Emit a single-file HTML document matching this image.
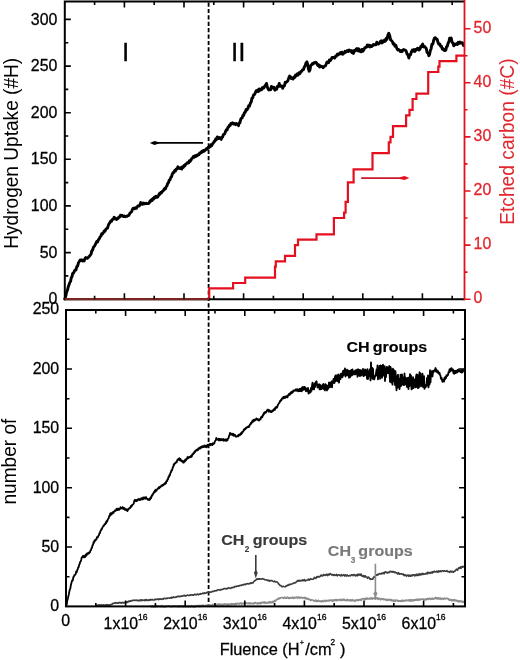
<!DOCTYPE html>
<html><head><meta charset="utf-8"><style>html,body{margin:0;padding:0;background:#fff;overflow:hidden}svg{display:block;will-change:transform}</style></head><body>
<svg width="520" height="660" viewBox="0 0 520 660">
<rect width="520" height="660" fill="#fff"/>
<line x1="208.6" y1="2.5" x2="208.6" y2="606" stroke="#000" stroke-width="1.8" stroke-dasharray="4.2 2.2"/>
<polyline points="64.8,299.0 65.7,296.4 66.5,292.5 67.4,290.3 68.2,287.1 69.0,284.8 69.8,282.6 70.6,281.3 71.3,277.7 72.0,276.8 72.7,273.4 73.5,273.1 74.3,271.3 75.1,269.9 75.9,270.1 76.8,266.6 77.6,266.2 78.5,262.7 79.3,261.5 80.2,260.1 81.0,260.5 81.8,259.9 82.6,261.0 83.4,260.2 84.2,260.9 85.0,258.4 85.7,257.6 86.5,258.0 87.3,258.3 88.1,257.7 88.9,256.6 89.7,256.0 90.4,255.0 91.1,254.0 91.8,250.6 92.6,250.0 93.4,247.4 94.2,246.4 95.0,245.2 95.9,243.3 96.7,241.6 97.6,242.1 98.4,239.7 99.3,238.8 100.1,236.8 100.9,236.2 101.7,233.8 102.5,234.1 103.3,232.8 104.2,231.0 105.0,231.3 105.9,229.2 106.7,228.5 107.5,228.1 108.3,225.4 109.1,223.7 109.9,222.7 110.7,221.0 111.6,221.2 112.4,219.5 113.3,219.2 114.1,217.3 114.9,218.7 115.7,218.2 116.5,219.5 117.3,218.5 118.1,218.5 118.9,216.9 119.7,217.0 120.5,215.2 121.3,215.9 122.1,215.3 122.9,216.4 123.7,216.6 124.5,216.0 125.3,216.8 126.1,216.4 126.9,216.4 127.7,215.7 128.5,215.6 129.3,214.5 130.1,212.9 130.9,212.3 131.6,211.7 132.4,209.5 133.2,208.2 134.0,208.2 134.8,208.7 135.6,207.7 136.4,208.3 137.3,206.5 138.1,205.8 139.0,206.1 139.8,205.2 140.7,202.6 141.5,203.2 142.4,204.3 143.2,203.0 144.1,203.9 144.9,203.3 145.8,203.7 146.6,203.3 147.5,203.6 148.3,203.5 149.2,203.1 150.0,201.0 150.7,201.4 151.5,199.7 152.3,200.4 153.0,198.4 153.8,198.8 154.6,196.9 155.4,197.6 156.1,196.2 156.9,197.3 157.7,197.0 158.5,195.6 159.2,193.8 160.0,194.2 160.7,192.5 161.5,192.8 162.3,191.4 163.1,191.0 163.8,189.8 164.6,188.5 165.4,189.0 166.2,186.6 166.9,186.0 167.7,183.5 168.4,182.7 169.2,180.2 170.0,179.7 170.8,177.4 171.5,176.8 172.3,174.2 173.1,172.5 173.9,172.6 174.7,170.5 175.5,170.9 176.3,168.9 177.1,168.9 177.9,166.8 178.7,168.3 179.4,168.1 180.2,168.6 180.9,167.6 181.7,169.1 182.5,166.7 183.3,167.4 184.0,165.4 184.8,165.8 185.6,164.2 186.4,164.0 187.1,163.0 187.9,162.4 188.6,162.9 189.4,160.7 190.2,161.3 191.0,160.2 191.7,158.5 192.5,158.2 193.3,156.5 194.1,157.2 194.9,155.7 195.7,156.5 196.5,155.2 197.3,155.7 198.1,154.4 198.9,154.6 199.6,153.0 200.4,153.3 201.1,152.6 201.9,151.2 202.7,151.9 203.5,150.4 204.2,151.2 205.0,150.5 205.8,149.3 206.5,148.7 207.2,149.2 208.0,147.5 208.7,147.7 209.5,146.2 210.2,146.8 211.0,144.7 211.7,145.6 212.5,143.9 213.3,143.2 214.1,141.5 214.9,141.3 215.7,139.0 216.5,139.5 217.3,136.9 218.1,138.5 218.9,138.5 219.6,137.4 220.4,137.9 221.2,139.4 221.9,137.2 222.6,137.2 223.3,134.7 224.0,134.3 224.8,133.6 225.6,131.2 226.3,129.8 227.1,130.0 227.9,127.4 228.7,127.1 229.4,125.2 230.2,125.4 230.9,123.4 231.7,123.5 232.5,122.8 233.3,124.0 234.0,124.1 234.8,123.6 235.6,124.6 236.3,123.4 237.1,124.3 237.8,124.3 238.5,125.7 239.2,122.9 239.9,122.9 240.6,119.6 241.3,118.3 242.1,118.0 242.9,115.5 243.6,115.5 244.4,112.6 245.2,112.4 246.1,109.4 246.9,109.9 247.8,108.5 248.7,105.7 249.5,106.1 250.4,103.1 251.2,101.9 251.9,98.2 252.7,97.7 253.6,94.9 254.4,94.7 255.3,92.9 256.2,90.7 257.0,91.5 257.7,90.0 258.5,91.4 259.3,88.9 260.0,90.3 260.8,89.2 261.6,89.7 262.5,87.6 263.4,88.3 264.2,87.5 265.0,85.4 265.7,85.4 266.5,83.4 267.3,87.0 268.0,88.6 268.8,90.0 269.7,89.4 270.6,89.7 271.4,86.4 272.3,87.0 273.2,88.1 274.1,87.3 274.9,90.2 275.8,89.3 276.6,89.3 277.5,86.3 278.4,86.4 279.2,83.5 280.1,86.3 280.9,86.3 281.8,85.9 282.7,88.3 283.6,86.0 284.4,86.0 285.3,82.2 286.2,82.2 287.1,81.6 287.9,80.6 288.8,77.9 289.6,76.1 290.5,76.9 291.4,78.6 292.2,78.0 293.1,78.9 294.0,76.9 294.8,77.5 295.6,75.0 296.5,75.7 297.4,73.8 298.2,75.0 299.1,72.7 300.0,73.5 300.9,71.4 301.8,71.4 302.6,69.7 303.5,69.6 304.4,66.8 305.2,65.6 306.0,62.9 306.9,61.9 307.7,64.4 308.4,68.7 309.2,71.2 310.0,69.8 310.7,65.6 311.5,64.9 312.4,63.6 313.2,64.0 314.1,62.6 315.0,62.8 315.8,62.2 316.5,62.9 317.3,64.5 318.1,65.5 318.8,64.9 319.6,67.1 320.5,65.9 321.4,66.6 322.2,66.4 323.1,67.8 323.9,66.6 324.6,66.1 325.4,65.8 326.2,64.1 326.9,62.2 327.7,62.0 328.6,62.6 329.4,59.9 330.3,60.6 331.2,59.2 332.1,57.5 332.9,57.4 333.8,57.4 334.6,58.1 335.5,56.1 336.4,56.3 337.2,54.2 338.1,54.8 338.9,53.7 339.6,54.1 340.4,52.6 341.2,53.8 341.9,52.2 342.7,54.3 343.5,53.4 344.2,53.3 345.0,51.3 345.8,52.2 346.5,51.5 347.3,50.5 348.2,51.4 349.1,50.0 350.0,50.9 350.9,50.4 351.8,52.4 352.6,50.9 353.5,53.4 354.4,50.4 355.2,51.0 356.0,49.4 356.9,48.5 357.8,50.7 358.6,48.8 359.5,51.3 360.4,50.1 361.2,51.8 362.1,49.4 362.9,51.2 363.8,49.7 364.7,48.0 365.6,47.3 366.4,47.3 367.3,45.1 368.2,46.4 369.1,45.1 369.9,46.9 370.8,45.6 371.6,46.5 372.5,45.9 373.4,44.5 374.2,44.6 375.1,44.9 375.9,44.9 376.8,42.2 377.7,43.8 378.6,44.0 379.4,43.2 380.3,41.6 381.2,40.7 382.1,42.9 382.9,41.0 383.8,41.6 384.6,39.9 385.4,41.1 386.1,38.6 386.9,39.5 387.9,35.1 388.8,33.2 389.7,35.5 390.6,39.9 391.5,40.6 392.4,41.6 393.2,44.0 394.1,43.8 395.0,46.2 395.9,45.4 396.8,48.4 397.6,49.9 398.5,49.5 399.4,50.1 400.2,51.4 401.0,50.5 401.9,51.6 402.8,50.2 403.6,49.5 404.5,50.1 405.4,50.2 406.2,51.2 407.1,54.2 407.9,54.6 408.8,58.0 409.7,55.0 410.6,54.7 411.4,51.7 412.3,50.1 413.2,51.2 414.1,49.5 414.9,51.4 415.8,49.5 416.6,49.9 417.5,48.2 418.4,48.4 419.2,50.0 420.1,48.8 420.9,46.3 421.8,46.6 422.7,44.1 423.6,46.9 424.4,46.4 425.3,47.3 426.2,48.4 427.1,52.3 428.0,53.1 428.9,55.7 429.6,54.3 430.4,50.3 431.1,48.8 431.9,44.2 432.8,44.3 433.6,40.6 434.5,38.1 435.4,37.7 436.2,39.1 437.1,39.1 437.9,42.1 438.8,44.3 439.7,43.9 440.6,46.3 441.4,46.1 442.3,49.2 443.2,48.8 444.1,50.4 444.9,50.6 445.8,50.2 446.6,46.6 447.3,46.3 448.1,43.2 448.9,41.8 449.6,38.2 450.4,38.5 451.2,38.0 452.1,42.3 452.9,43.1 453.8,45.8 454.7,44.0 455.6,44.6 456.4,43.7 457.3,44.5 458.2,42.3 459.1,43.4 459.9,42.1 460.8,43.1 461.7,42.7 462.6,42.9 463.5,45.4" fill="none" stroke="#000" stroke-width="2.9" stroke-linejoin="round" stroke-linecap="round"/>
<polyline points="209.2,299.2 209.2,288.4 233.1,288.4 233.1,283.0 245.2,283.0 245.2,277.6 275.0,277.6 275.0,266.7 275.8,266.7 275.8,261.3 285.0,261.3 285.0,255.9 295.0,255.9 295.0,245.1 298.0,245.1 298.0,239.7 316.5,239.7 316.5,234.3 333.9,234.3 333.9,218.0 344.1,218.0 344.1,212.6 345.6,212.6 345.6,201.8 347.9,201.8 347.9,182.3 353.6,182.3 353.6,169.4 372.5,169.4 372.5,153.1 388.8,153.1 388.8,142.3 390.5,142.3 390.5,136.9 393.0,136.9 393.0,126.1 406.1,126.1 406.1,115.3 409.5,115.3 409.5,109.8 412.6,109.8 412.6,99.0 416.4,99.0 416.4,93.6 428.2,93.6 428.2,72.0 438.3,72.0 438.3,66.6 439.5,66.6 439.5,61.2 456.4,61.2 456.4,55.7 464.5,55.7" fill="none" stroke="#e5101f" stroke-width="2.2" stroke-linejoin="miter"/>
<polyline points="150.0,606.4 150.8,606.0 151.6,606.9 152.4,606.0 153.2,607.0 154.0,606.1 154.8,607.0 155.6,606.3 156.4,605.7 157.2,606.9 158.0,606.3 158.8,606.5 159.6,606.2 160.4,606.8 161.2,605.8 162.1,606.9 162.9,605.9 163.7,606.7 164.5,607.1 165.3,606.9 166.1,606.2 166.9,606.5 167.7,606.1 168.5,606.1 169.3,605.8 170.1,606.6 170.9,606.8 171.7,606.7 172.5,605.9 173.3,606.7 174.1,606.1 174.9,605.8 175.7,606.7 176.5,606.3 177.3,606.6 178.1,606.0 178.9,606.9 179.7,605.9 180.5,606.8 181.3,606.1 182.1,605.8 182.9,607.0 183.8,606.1 184.6,605.9 185.4,607.1 186.2,606.1 187.0,606.7 187.8,606.3 188.6,606.9 189.4,605.9 190.2,606.8 191.0,606.8 191.8,605.8 192.6,606.6 193.4,607.0 194.2,606.2 195.0,607.1 195.8,605.7 196.6,605.8 197.4,606.4 198.2,605.5 199.1,606.6 199.9,605.5 200.7,606.3 201.5,605.4 202.3,606.1 203.1,605.2 203.9,606.1 204.7,606.0 205.5,605.4 206.4,605.8 207.2,605.2 208.0,605.7 208.8,604.8 209.6,604.9 210.4,605.8 211.2,605.1 212.0,605.8 212.8,604.5 213.6,605.6 214.4,604.5 215.2,605.6 216.0,604.4 216.8,605.4 217.6,604.2 218.4,605.3 219.2,604.1 220.0,604.0 220.8,605.2 221.6,605.0 222.4,604.3 223.2,605.1 224.0,604.1 224.8,604.0 225.6,604.9 226.4,604.1 227.2,605.2 228.0,604.0 228.8,605.1 229.6,604.3 230.4,604.9 231.2,603.8 232.0,604.5 232.9,603.8 233.7,604.4 234.5,604.7 235.3,603.5 236.1,604.5 236.9,603.6 237.7,603.3 238.5,603.5 239.3,604.1 240.1,603.3 241.0,603.0 241.8,604.3 242.6,603.3 243.4,603.7 244.2,603.0 245.0,603.8 245.8,602.8 246.6,603.0 247.4,603.5 248.2,603.5 249.0,602.9 249.8,603.9 250.6,603.2 251.3,603.5 252.1,603.6 252.9,603.2 253.7,603.7 254.5,602.8 255.3,602.6 256.1,603.5 256.9,603.1 257.7,603.7 258.5,603.0 259.3,603.5 260.1,602.7 260.9,603.6 261.8,602.4 262.6,602.7 263.4,602.2 264.2,603.1 265.0,602.0 265.8,603.0 266.6,603.1 267.4,602.8 268.2,602.1 269.0,602.9 269.9,601.7 270.7,602.8 271.5,602.7 272.3,601.4 273.1,602.5 273.9,601.7 274.7,600.6 275.5,601.0 276.4,599.8 277.2,599.3 278.0,599.2 278.8,597.9 279.6,598.6 280.5,597.8 281.3,597.7 282.1,597.7 282.9,597.8 283.8,598.3 284.6,597.3 285.4,598.2 286.2,598.2 287.0,597.5 287.8,597.2 288.7,598.4 289.5,598.2 290.3,597.6 291.1,598.2 291.9,597.7 292.7,597.4 293.5,598.4 294.3,597.4 295.1,597.9 295.9,597.4 296.8,597.1 297.6,598.2 298.4,597.4 299.2,597.2 300.0,598.1 300.8,597.4 301.7,597.7 302.5,598.0 303.3,597.7 304.2,598.3 305.0,597.5 305.8,598.8 306.7,598.1 307.5,599.1 308.3,598.7 309.2,599.7 310.0,599.5 310.8,600.4 311.7,599.8 312.5,600.0 313.3,600.3 314.2,601.2 315.0,601.0 315.8,600.1 316.7,601.5 317.5,601.1 318.3,600.4 319.2,601.2 320.0,601.5 320.8,600.9 321.6,601.5 322.5,600.8 323.3,601.6 324.1,601.1 324.9,600.3 325.8,601.4 326.6,600.7 327.4,600.9 328.2,600.3 329.0,600.9 329.9,600.4 330.7,599.9 331.5,600.4 332.3,601.2 333.0,599.9 333.8,600.8 334.6,600.0 335.4,600.4 336.1,599.6 336.9,600.6 337.7,599.8 338.5,600.3 339.2,599.9 340.0,599.4 340.8,600.5 341.6,599.5 342.3,600.2 343.1,600.3 343.9,599.1 344.7,600.4 345.6,600.2 346.4,600.6 347.2,599.5 348.0,600.4 348.9,600.0 349.7,600.6 350.5,600.0 351.3,600.8 352.1,599.7 353.0,600.8 353.8,600.1 354.6,600.9 355.4,601.0 356.2,599.8 357.1,600.1 357.9,600.6 358.7,599.6 359.5,600.0 360.4,599.5 361.2,600.2 362.0,599.0 362.8,598.9 363.6,598.7 364.5,598.9 365.3,599.5 366.1,598.1 366.9,599.1 367.7,598.3 368.5,598.8 369.3,599.0 370.1,598.1 370.8,598.8 371.6,598.0 372.4,599.0 373.2,598.3 374.0,598.5 374.8,597.7 375.6,599.0 376.4,598.4 377.3,597.9 378.1,599.3 378.9,598.4 379.7,598.6 380.6,599.7 381.4,598.7 382.2,598.6 383.0,599.5 383.8,599.0 384.7,599.6 385.5,599.4 386.3,600.2 387.1,599.5 388.0,600.3 388.8,599.6 389.6,599.4 390.4,600.4 391.3,599.7 392.1,600.9 392.9,600.2 393.8,601.0 394.6,600.2 395.4,601.0 396.2,600.2 397.1,600.4 397.9,601.2 398.7,600.7 399.5,601.2 400.4,600.8 401.2,601.4 402.0,600.3 402.8,601.1 403.6,600.4 404.5,601.2 405.3,600.4 406.1,600.1 406.9,600.7 407.8,600.2 408.6,600.0 409.4,601.0 410.2,599.8 410.9,600.9 411.7,599.9 412.5,600.8 413.3,599.9 414.0,600.5 414.8,599.7 415.6,600.1 416.4,599.4 417.1,600.2 417.9,599.3 418.7,600.0 419.5,599.2 420.2,599.9 421.0,599.3 421.8,599.0 422.6,599.2 423.4,599.2 424.2,599.7 425.0,599.9 425.8,598.9 426.6,599.5 427.4,598.7 428.2,599.4 429.0,598.5 429.8,598.4 430.6,599.3 431.4,599.0 432.2,598.2 433.0,599.0 433.8,598.9 434.6,598.5 435.4,597.7 436.2,598.5 437.0,597.8 437.9,599.0 438.7,598.0 439.5,598.8 440.3,598.1 441.1,599.3 442.0,598.5 442.8,598.3 443.6,599.3 444.4,598.4 445.3,598.6 446.1,598.5 446.9,598.5 447.7,598.6 448.5,598.9 449.4,600.1 450.2,600.0 451.0,599.6 451.8,600.7 452.6,599.9 453.5,600.6 454.3,599.7 455.1,600.8 455.9,600.2 456.8,601.0 457.6,600.6 458.4,601.7 459.2,601.0 459.9,601.6 460.7,600.9 461.4,601.8 462.2,601.4 463.0,602.3 463.7,601.5 464.5,602.0" fill="none" stroke="#8c8c8c" stroke-width="1.8" stroke-linejoin="round"/>
<polyline points="95.4,605.3 96.2,605.4 97.0,605.0 97.8,605.7 98.6,604.9 99.3,605.6 100.1,604.9 100.9,605.6 101.7,604.8 102.5,605.5 103.3,604.9 104.1,605.0 104.9,605.6 105.7,605.0 106.5,604.6 107.2,605.3 108.0,604.8 108.8,605.2 109.6,604.9 110.4,605.4 111.2,604.2 112.1,604.2 113.0,603.3 113.8,603.4 114.6,603.2 115.3,602.6 116.1,603.2 116.9,602.6 117.7,603.1 118.4,603.1 119.2,602.3 120.0,603.0 120.8,602.5 121.5,603.1 122.3,602.4 123.1,603.0 123.9,602.4 124.6,603.0 125.4,602.3 126.2,602.6 126.9,601.7 127.7,602.4 128.5,601.2 129.2,601.6 130.0,600.8 130.8,601.2 131.5,600.6 132.3,600.7 133.1,600.2 133.9,600.1 134.7,600.6 135.5,600.1 136.3,600.1 137.1,600.7 137.9,600.1 138.7,600.9 139.4,600.5 140.2,599.9 141.0,600.8 141.8,599.9 142.6,600.4 143.4,600.1 144.2,600.6 145.0,599.7 145.8,600.3 146.6,599.6 147.4,600.4 148.1,600.5 148.9,599.7 149.7,600.3 150.5,599.5 151.3,600.0 152.1,599.4 152.9,600.0 153.7,600.0 154.4,600.0 155.2,599.1 156.0,599.6 156.8,599.2 157.6,599.0 158.4,599.6 159.2,598.9 159.9,599.4 160.7,598.9 161.5,599.4 162.3,598.9 163.1,599.3 163.9,598.4 164.7,598.4 165.5,598.8 166.3,598.3 167.1,598.5 167.9,598.0 168.7,598.0 169.5,598.1 170.3,597.6 171.1,598.2 171.9,597.2 172.7,597.7 173.5,596.9 174.3,597.5 175.1,597.5 175.9,596.7 176.7,597.1 177.5,596.4 178.3,596.3 179.1,596.7 179.9,596.2 180.7,596.5 181.5,596.0 182.3,596.3 183.1,595.8 183.9,595.6 184.7,595.4 185.5,596.1 186.3,595.8 187.1,595.1 187.9,595.1 188.7,595.6 189.5,595.1 190.3,595.4 191.1,594.8 191.9,594.9 192.8,595.1 193.6,595.1 194.4,594.3 195.2,594.3 196.0,595.0 196.8,594.4 197.6,594.0 198.4,594.8 199.2,594.1 200.0,594.3 200.8,593.6 201.5,594.0 202.3,593.4 203.1,593.1 203.8,593.6 204.6,592.8 205.4,593.2 206.2,593.0 206.9,592.2 207.7,592.5 208.5,591.9 209.2,592.2 210.0,592.1 210.8,592.1 211.6,591.9 212.3,591.2 213.1,591.6 213.9,591.2 214.6,590.8 215.4,590.9 216.2,590.5 216.9,590.8 217.7,589.8 218.5,589.8 219.2,589.9 220.0,590.3 220.8,589.5 221.6,589.8 222.3,589.2 223.1,589.3 223.9,588.6 224.6,588.5 225.4,588.6 226.2,589.1 226.9,588.2 227.7,588.6 228.5,587.9 229.3,587.8 230.0,588.3 230.8,588.4 231.6,587.6 232.3,587.8 233.1,587.2 233.9,587.5 234.7,586.6 235.4,586.4 236.2,586.8 237.0,586.0 237.7,586.3 238.5,585.7 239.3,586.0 240.0,585.4 240.8,585.2 241.6,585.5 242.3,584.8 243.1,585.0 243.9,584.4 244.7,584.2 245.4,584.6 246.2,583.7 247.0,583.9 247.9,583.6 248.7,583.9 249.6,583.7 250.4,582.9 251.2,583.5 252.1,582.7 252.9,583.0 253.7,581.7 254.4,581.0 255.2,580.4 255.9,580.1 256.7,578.8 257.5,579.4 258.3,578.8 259.1,579.3 259.9,578.7 260.7,579.0 261.5,579.2 262.3,578.5 263.2,579.1 264.0,579.1 264.8,579.8 265.6,579.7 266.5,580.1 267.3,580.1 268.1,580.8 269.0,580.2 269.8,581.1 270.6,580.6 271.4,580.5 272.3,580.8 273.1,581.4 273.9,581.8 274.6,581.1 275.4,582.0 276.1,582.0 276.9,581.9 277.7,582.4 278.5,583.9 279.2,584.2 280.0,585.5 280.8,585.5 281.6,586.5 282.3,586.8 283.1,586.2 283.8,586.5 284.6,586.8 285.4,586.8 286.2,585.6 286.9,586.0 287.7,585.0 288.5,585.4 289.3,584.3 290.1,584.7 290.9,584.1 291.8,584.0 292.6,583.8 293.4,583.2 294.2,582.8 295.0,583.0 295.8,582.6 296.5,581.4 297.3,581.4 298.1,580.3 298.9,581.1 299.7,580.4 300.5,581.0 301.3,580.3 302.1,580.8 302.9,579.8 303.7,580.6 304.5,579.6 305.3,581.0 306.1,580.4 306.9,580.3 307.7,580.0 308.5,579.0 309.3,580.2 310.2,579.1 311.0,578.9 311.9,579.3 312.7,579.3 313.5,579.1 314.4,577.3 315.2,578.1 316.0,578.4 316.9,576.7 317.7,577.2 318.5,576.3 319.4,577.0 320.2,576.4 321.1,575.0 321.9,575.9 322.7,575.9 323.5,574.5 324.3,575.5 325.1,574.7 325.9,575.3 326.8,574.2 327.6,575.6 328.4,574.1 329.2,575.0 330.0,573.6 330.8,573.9 331.6,574.9 332.4,574.5 333.2,575.4 334.1,574.6 334.9,575.5 335.7,575.3 336.5,574.3 337.3,575.9 338.1,575.0 338.9,574.8 339.8,575.1 340.6,575.9 341.4,574.6 342.2,575.7 343.1,575.2 343.9,574.7 344.7,576.0 345.5,574.9 346.3,576.0 347.2,574.9 348.0,575.9 348.8,575.9 349.6,575.5 350.5,575.9 351.3,574.7 352.1,574.9 352.9,575.6 353.8,574.5 354.6,575.0 355.4,576.0 356.3,574.8 357.1,575.8 357.9,574.2 358.7,575.4 359.6,574.1 360.4,575.4 361.2,574.0 362.0,576.1 362.8,576.5 363.6,575.5 364.4,577.0 365.2,575.8 366.0,577.0 366.8,577.0 367.6,578.3 368.5,577.1 369.3,577.9 370.2,579.3 371.0,578.9 371.9,579.2 372.8,579.3 373.6,577.0 374.5,577.3 375.3,575.9 376.2,574.8 377.0,575.3 377.8,574.4 378.6,574.6 379.4,573.6 380.3,573.8 381.1,574.1 381.9,573.0 382.7,573.6 383.5,572.7 384.3,573.6 385.1,571.8 385.8,571.9 386.6,572.7 387.4,573.0 388.2,572.0 389.0,572.7 389.8,571.7 390.5,571.3 391.3,572.0 392.1,571.3 392.9,572.2 393.7,571.6 394.5,572.6 395.3,572.1 396.1,573.0 396.9,572.9 397.7,574.0 398.5,572.6 399.3,574.2 400.1,573.7 400.9,574.0 401.7,573.7 402.5,574.5 403.3,574.0 404.1,575.7 404.9,574.8 405.7,575.0 406.5,576.2 407.3,575.2 408.1,575.0 408.9,576.3 409.7,575.1 410.5,576.2 411.2,575.2 412.0,576.0 412.8,574.8 413.6,574.8 414.4,575.8 415.2,574.7 416.0,575.7 416.8,574.0 417.5,575.4 418.3,575.5 419.1,573.7 419.9,575.2 420.7,573.9 421.5,574.7 422.2,573.4 423.0,574.5 423.8,573.6 424.6,574.2 425.5,574.0 426.3,573.0 427.1,573.9 427.9,572.2 428.8,573.3 429.6,572.5 430.4,573.3 431.3,572.1 432.1,573.1 432.9,571.5 433.7,572.3 434.6,571.2 435.4,572.0 436.2,571.9 437.0,571.1 437.9,572.3 438.7,570.9 439.5,571.6 440.3,570.9 441.1,571.7 442.0,570.8 442.8,570.7 443.6,571.3 444.4,570.7 445.3,571.2 446.1,571.3 446.9,570.6 447.7,571.7 448.6,571.5 449.4,572.3 450.2,571.1 451.0,572.1 451.9,571.2 452.7,571.8 453.5,572.3 454.3,571.1 455.1,571.1 456.0,569.7 456.8,569.2 457.6,570.1 458.4,568.2 459.1,567.5 459.9,568.5 460.6,566.9 461.3,568.1 462.1,566.4 462.8,567.2 463.8,566.4 464.8,567.0" fill="none" stroke="#3c3c3c" stroke-width="1.6" stroke-linejoin="round"/>
<polyline points="66.2,606.0 66.8,604.2 67.3,600.4 67.9,598.4 68.4,595.9 68.8,594.5 69.3,591.7 69.8,589.5 70.3,588.6 70.8,585.4 71.3,583.5 71.8,581.6 72.3,580.1 72.8,580.3 73.3,577.2 73.8,577.0 74.3,575.2 74.8,575.1 75.2,574.8 75.7,573.9 76.2,571.5 76.7,572.2 77.2,570.0 77.7,569.6 78.2,567.3 78.7,567.1 79.2,564.6 79.7,564.0 80.2,561.7 80.7,561.4 81.2,560.0 81.7,557.3 82.1,557.3 82.6,556.7 83.1,555.8 83.6,557.2 84.1,557.4 84.6,555.9 85.1,557.0 85.6,554.6 86.1,555.8 86.6,553.7 87.1,554.8 87.6,553.1 88.0,554.0 88.5,552.6 89.0,553.4 89.5,552.1 90.0,552.4 90.5,550.3 91.0,550.1 91.5,547.9 92.0,547.8 92.5,545.3 93.0,545.0 93.5,542.1 94.0,542.7 94.5,540.5 94.9,541.3 95.4,539.6 95.9,539.9 96.4,539.5 96.9,537.3 97.4,537.0 97.9,537.2 98.4,535.7 98.9,535.3 99.4,533.2 99.9,533.2 100.4,531.0 100.9,530.7 101.4,528.9 101.8,529.1 102.3,527.7 102.8,526.9 103.3,526.0 103.8,526.0 104.3,524.5 104.8,524.6 105.3,524.3 105.8,522.2 106.2,523.1 106.7,520.9 107.2,521.6 107.7,519.8 108.2,518.7 108.7,518.3 109.2,515.9 109.7,516.3 110.2,513.5 110.7,515.0 111.2,513.1 111.7,514.3 112.1,513.4 112.6,512.2 113.1,511.9 113.6,513.0 114.1,511.3 114.6,511.2 115.1,510.3 115.6,510.9 116.1,510.3 116.6,508.8 117.1,508.6 117.6,510.1 118.1,508.8 118.6,508.6 119.1,509.9 119.6,508.6 120.1,508.8 120.5,507.2 121.0,508.7 121.5,508.0 122.0,508.0 122.5,507.1 123.0,508.8 123.5,507.8 124.0,509.0 124.5,508.1 125.0,509.9 125.5,509.1 126.0,510.0 126.5,510.4 126.9,509.2 127.4,511.1 127.9,510.0 128.4,509.6 128.9,508.8 129.4,508.0 129.9,508.2 130.4,507.5 130.9,505.9 131.4,506.7 131.8,505.1 132.3,505.5 132.8,504.4 133.3,504.1 133.8,503.4 134.3,500.7 134.8,499.9 135.3,499.8 135.8,501.2 136.3,500.0 136.8,501.0 137.2,499.9 137.7,500.6 138.2,499.0 138.7,499.2 139.2,499.0 139.7,500.0 140.2,499.9 140.7,499.6 141.2,498.1 141.7,499.4 142.2,498.3 142.7,499.5 143.2,497.5 143.7,498.9 144.1,497.4 144.6,498.4 145.1,497.4 145.6,498.7 146.1,497.1 146.6,498.7 147.1,498.9 147.6,498.8 148.1,499.8 148.6,499.4 149.1,500.1 149.6,498.7 150.0,499.6 150.5,497.5 151.0,498.3 151.4,496.9 151.9,495.1 152.4,495.6 152.9,493.9 153.3,493.8 153.8,492.1 154.3,492.6 154.9,490.5 155.4,491.7 155.9,489.7 156.4,490.7 157.0,489.7 157.5,489.1 158.0,488.2 158.4,488.4 158.9,487.2 159.4,488.3 159.9,486.8 160.4,487.1 160.8,486.8 161.3,485.5 161.8,485.4 162.4,485.9 162.9,484.6 163.4,485.1 163.9,484.7 164.5,483.4 165.0,484.0 165.5,482.4 166.0,483.2 166.5,480.9 167.0,481.3 167.5,479.2 168.0,479.4 168.4,477.0 168.9,477.3 169.4,475.0 169.9,475.4 170.4,472.9 170.8,472.9 171.3,470.5 171.8,470.8 172.3,469.4 172.8,467.2 173.3,466.8 173.8,464.1 174.3,464.8 174.8,463.2 175.3,462.9 175.8,463.0 176.3,461.7 176.8,462.1 177.3,460.0 177.8,460.2 178.3,458.9 178.8,459.5 179.3,458.2 179.8,460.4 180.3,458.8 180.8,460.6 181.3,461.0 181.8,460.5 182.3,461.7 182.8,461.1 183.3,462.6 183.8,462.5 184.3,460.6 184.9,461.6 185.4,459.3 185.9,460.5 186.4,459.0 187.0,459.0 187.5,457.0 188.0,458.4 188.4,457.2 188.9,457.6 189.4,456.9 189.9,457.2 190.4,456.5 190.8,457.2 191.3,455.4 191.8,456.6 192.4,454.2 192.9,454.5 193.4,453.1 193.9,453.5 194.5,451.4 195.0,452.1 195.5,450.7 195.9,451.0 196.4,449.8 196.9,450.3 197.4,449.4 197.9,450.3 198.3,448.4 198.8,449.1 199.3,447.8 199.9,447.4 200.4,448.5 200.9,446.9 201.4,447.5 202.0,446.3 202.5,447.2 203.0,446.1 203.4,446.1 203.9,447.0 204.4,445.4 204.9,446.9 205.4,446.8 205.8,445.8 206.3,447.3 206.8,445.3 207.4,446.7 207.9,444.6 208.4,444.6 208.9,444.7 209.5,445.0 210.0,443.8 210.5,445.3 210.9,444.0 211.4,444.9 211.9,444.0 212.4,445.0 212.9,443.2 213.3,444.1 213.8,443.5 214.3,443.5 214.8,441.6 215.3,440.6 215.8,440.2 216.3,438.0 216.8,439.5 217.4,439.4 217.9,439.5 218.4,438.7 218.9,440.4 219.5,438.9 220.0,440.3 220.5,439.0 220.9,440.3 221.4,439.1 221.9,439.1 222.4,440.2 222.9,439.7 223.3,439.0 223.8,440.8 224.3,439.8 224.9,439.5 225.4,440.6 225.9,439.5 226.4,440.9 227.0,439.1 227.5,440.3 228.0,438.5 228.5,438.2 229.0,436.0 229.5,435.3 230.0,432.8 230.5,434.5 230.9,433.6 231.4,434.6 231.9,433.7 232.4,434.8 232.9,433.8 233.3,435.7 233.8,434.3 234.3,435.8 234.9,434.8 235.4,435.3 235.9,436.7 236.4,436.8 237.0,436.4 237.5,436.0 238.0,435.5 238.4,436.3 238.9,434.7 239.4,434.5 239.9,435.2 240.4,434.0 240.8,433.1 241.3,434.2 241.8,432.2 242.4,432.7 242.9,431.4 243.4,431.3 243.9,429.3 244.5,429.9 245.0,428.6 245.5,429.1 245.9,427.7 246.4,428.0 246.9,427.2 247.4,427.4 247.9,427.1 248.3,426.3 248.8,427.1 249.3,426.6 249.9,424.3 250.4,424.4 250.9,422.8 251.4,423.5 252.0,421.6 252.5,420.7 253.0,421.9 253.4,420.0 253.9,421.2 254.4,419.5 254.9,420.5 255.4,420.1 255.8,419.7 256.3,418.4 256.8,419.3 257.4,419.8 257.9,419.0 258.4,420.3 258.9,420.5 259.5,419.3 260.0,419.5 260.5,419.4 260.9,417.9 261.4,416.7 261.9,417.3 262.4,417.1 262.9,414.8 263.3,415.0 263.8,413.0 264.3,413.9 264.9,412.2 265.4,412.0 265.9,412.5 266.4,411.7 267.0,410.1 267.5,410.6 268.0,409.5 268.4,411.0 268.9,411.7 269.4,410.2 269.9,410.7 270.4,411.7 270.8,411.3 271.3,412.2 271.8,412.0 272.3,410.5 272.8,411.1 273.3,410.0 273.8,410.3 274.3,408.6 274.9,409.9 275.4,407.5 275.9,408.3 276.4,406.7 277.0,407.6 277.5,406.5 278.0,404.6 278.5,403.9 279.0,403.1 279.5,402.7 280.0,401.0 280.5,401.3 280.9,399.9 281.4,400.2 281.9,398.4 282.4,398.6 282.9,398.7 283.3,397.0 283.8,397.7 284.3,396.7 284.9,398.1 285.4,396.5 285.9,397.5 286.4,396.1 287.0,396.8 287.5,397.3 288.0,395.1 288.4,395.6 288.9,394.2 289.4,393.7 289.9,394.8 290.4,392.9 290.8,393.8 291.3,391.9 291.8,393.1 292.4,391.4 292.9,392.2 293.4,390.5 293.9,391.1 294.5,390.2 295.0,390.6 295.5,390.6 296.0,389.3 296.5,390.7 297.0,389.8 297.5,389.2 298.0,391.3 298.5,389.8 299.0,391.1 299.5,388.9 300.0,391.2 300.5,388.6 301.0,391.1 301.5,391.4 302.0,387.5 302.5,390.5 303.0,386.9 303.5,389.1 304.0,389.7 304.5,387.0 305.0,388.4 305.5,387.6 306.0,391.4 306.5,390.4 307.0,389.0 307.5,391.0 308.0,387.9 308.5,393.7 309.0,390.5 309.5,392.8 310.0,390.5 310.5,392.3 311.0,387.9 311.5,390.8 312.0,385.7 312.5,382.7 313.0,389.2 313.5,388.1 314.0,389.3 314.5,383.4 315.0,387.2 315.5,383.1 316.0,381.9 316.5,381.2 317.0,384.3 317.5,387.5 318.0,386.9 318.5,384.9 319.0,384.3 319.5,389.3 320.0,384.6 320.5,389.3 321.0,386.1 321.5,389.2 322.0,385.3 322.5,388.3 323.0,384.5 323.5,383.9 324.0,389.4 324.5,386.2 325.0,390.5 325.5,384.2 326.0,388.9 326.5,385.1 327.0,390.5 327.5,386.0 328.0,389.0 328.5,387.7 329.0,382.5 329.5,386.5 330.0,387.3 330.5,382.6 331.0,385.7 331.5,381.5 332.0,387.4 332.5,381.1 333.0,383.2 333.5,378.8 334.0,379.6 334.5,383.0 335.0,376.2 335.5,381.3 336.0,375.2 336.5,380.5 337.0,376.6 337.5,381.3 338.0,374.8 338.5,374.4 339.0,382.6 339.5,377.5 340.0,375.3 340.5,379.1 341.0,373.6 341.5,377.1 342.0,373.5 342.5,377.3 343.0,371.0 343.5,375.4 344.0,370.5 344.5,374.4 345.0,368.4 345.5,376.5 346.0,371.1 346.5,375.4 347.0,369.7 347.5,375.4 348.0,370.6 348.5,370.6 349.0,377.8 349.5,371.3 350.0,377.4 350.5,370.6 351.0,375.8 351.5,370.0 352.0,375.4 352.5,369.5 353.0,374.7 353.5,371.5 354.0,372.1 354.5,374.3 355.0,370.6 355.5,374.4 356.0,370.2 356.5,370.1 357.0,369.9 357.5,376.8 358.0,369.2 358.5,374.9 359.0,369.8 359.5,376.0 360.0,370.0 360.5,375.9 361.0,370.3 361.5,375.4 362.0,370.7 362.5,374.2 363.0,368.8 363.5,376.2 364.0,371.0 364.5,375.6 365.0,369.5 365.5,370.0 366.0,375.0 366.5,370.6 367.0,378.6 367.5,369.2 368.0,379.1 368.5,371.7 369.0,376.3 369.5,371.0 370.0,369.1 370.5,380.4 371.0,362.4 371.5,375.7 372.0,367.6 372.5,378.8 373.0,368.6 373.5,378.5 374.0,379.4 374.5,378.7 375.0,375.9 375.5,376.2 376.0,373.3 376.5,369.5 377.0,375.4 377.5,365.3 378.0,379.4 378.5,370.4 379.0,376.5 379.5,366.0 380.0,378.8 380.5,365.4 381.0,376.5 381.5,365.9 382.0,377.8 382.5,366.7 383.0,364.7 383.5,375.5 384.0,369.4 384.5,366.1 385.0,381.0 385.5,370.4 386.0,377.2 386.5,367.1 387.0,366.9 387.5,369.3 388.0,373.4 388.6,368.3 389.3,366.0 390.0,381.8 390.5,366.9 391.0,368.7 391.5,382.6 392.0,370.0 392.5,384.7 393.0,368.6 393.5,381.4 394.0,370.1 394.5,374.2 395.0,385.0 395.5,371.2 396.0,382.9 396.5,390.3 397.0,376.1 397.5,387.6 398.0,374.6 398.5,387.0 399.0,378.8 399.5,389.2 400.0,385.3 400.5,374.6 401.0,386.2 401.5,382.9 402.0,374.3 402.5,384.6 403.0,378.8 403.5,377.5 404.0,385.2 404.5,373.5 405.0,384.7 405.5,377.3 406.0,384.4 406.5,379.2 407.0,386.9 407.5,377.9 408.0,385.8 408.5,389.0 409.0,377.5 409.5,386.2 410.0,374.2 410.5,375.3 411.0,375.5 411.5,389.4 412.0,388.8 412.5,384.1 413.0,377.1 413.5,388.1 414.0,379.1 414.5,385.6 415.0,383.2 415.5,387.4 416.0,376.7 416.5,374.5 417.0,386.9 417.5,375.0 418.0,388.2 418.5,375.4 419.0,387.3 419.5,372.2 420.0,374.2 420.5,373.3 421.0,386.4 421.5,378.8 422.0,385.4 422.5,373.7 423.0,387.0 423.5,386.2 424.0,376.1 424.5,388.9 425.0,384.8 425.5,387.4 426.0,385.9 426.5,385.9 427.0,377.8 427.5,385.3 428.0,375.3 428.5,387.4 429.0,377.6 429.5,384.7 430.0,370.2 430.5,382.5 431.0,373.4 431.5,376.1 432.0,371.0 432.5,376.5 433.0,371.5 433.5,372.3 434.0,370.3 434.5,370.8 435.0,369.8 435.5,368.0 436.0,371.5 436.5,369.6 437.0,371.3 437.5,372.6 438.0,371.1 438.5,372.9 439.0,373.7 439.5,372.7 440.0,374.8 440.5,375.9 441.0,378.8 441.5,377.7 442.0,380.2 442.5,381.8 443.0,379.7 443.5,381.2 444.0,381.6 444.5,377.7 445.0,379.3 445.5,376.8 446.0,378.2 446.5,375.2 447.0,376.1 447.5,375.2 448.0,375.2 448.5,372.2 449.0,372.5 449.5,369.3 450.0,371.7 450.5,368.6 451.0,369.8 451.5,368.2 452.0,370.9 452.5,369.5 453.0,369.4 453.5,373.5 454.0,370.9 454.5,373.7 455.0,370.7 455.5,373.1 456.0,370.9 456.5,372.6 457.0,372.6 457.5,370.0 458.0,371.6 458.5,369.5 459.0,371.4 459.5,370.7 460.0,371.4 460.5,372.0 461.0,370.2 461.5,372.5 462.0,370.1 462.5,372.3 463.0,370.2 463.5,370.2 464.0,370.4 464.5,371.4" fill="none" stroke="#000" stroke-width="1.8" stroke-linejoin="round"/>
<path d="M63.8,1.5H464.5 M64.8,0.5V300.2 M63.8,299.2H464.5" stroke="#000" stroke-width="2" fill="none"/>
<line x1="64.8" y1="299.2" x2="209.2" y2="299.2" stroke="#7a2424" stroke-width="2.2"/>
<line x1="464.5" y1="0" x2="464.5" y2="300.2" stroke="#e5101f" stroke-width="1.8"/>
<path d="M94.6,1.5V5.0 M94.6,299.2V295.7 M124.4,1.5V7.5 M124.4,299.2V293.2 M154.2,1.5V5.0 M154.2,299.2V295.7 M184.0,1.5V7.5 M184.0,299.2V293.2 M213.8,1.5V5.0 M213.8,299.2V295.7 M243.6,1.5V7.5 M243.6,299.2V293.2 M273.4,1.5V5.0 M273.4,299.2V295.7 M303.2,1.5V7.5 M303.2,299.2V293.2 M333.0,1.5V5.0 M333.0,299.2V295.7 M362.8,1.5V7.5 M362.8,299.2V293.2 M392.6,1.5V5.0 M392.6,299.2V295.7 M422.4,1.5V7.5 M422.4,299.2V293.2 M452.2,1.5V5.0 M452.2,299.2V295.7 M64.8,275.9H68.3 M64.8,252.6H70.8 M64.8,229.3H68.3 M64.8,205.9H70.8 M64.8,182.6H68.3 M64.8,159.3H70.8 M64.8,136.0H68.3 M64.8,112.7H70.8 M64.8,89.4H68.3 M64.8,66.1H70.8 M64.8,42.8H68.3 M64.8,19.4H70.8 " stroke="#000" stroke-width="1.6" fill="none"/>
<path d="M464.5,299.2H470.5 M464.5,272.1H467.5 M464.5,245.1H470.5 M464.5,218.0H467.5 M464.5,191.0H470.5 M464.5,163.9H467.5 M464.5,136.9H470.5 M464.5,109.8H467.5 M464.5,82.8H470.5 M464.5,55.7H467.5 M464.5,28.7H470.5 " stroke="#e5101f" stroke-width="1.6" fill="none"/>
<rect x="66.0" y="310.0" width="399.0" height="296.4" stroke="#000" stroke-width="2" fill="none"/>
<path d="M95.8,310.0V313.5 M95.8,606.4V602.9 M125.6,310.0V316.0 M125.6,606.4V600.4 M155.4,310.0V313.5 M155.4,606.4V602.9 M185.2,310.0V316.0 M185.2,606.4V600.4 M215.0,310.0V313.5 M215.0,606.4V602.9 M244.8,310.0V316.0 M244.8,606.4V600.4 M274.6,310.0V313.5 M274.6,606.4V602.9 M304.4,310.0V316.0 M304.4,606.4V600.4 M334.2,310.0V313.5 M334.2,606.4V602.9 M364.0,310.0V316.0 M364.0,606.4V600.4 M393.8,310.0V313.5 M393.8,606.4V602.9 M423.6,310.0V316.0 M423.6,606.4V600.4 M453.4,310.0V313.5 M453.4,606.4V602.9 M66.0,576.7H69.5 M465.0,576.7H461.5 M66.0,547.0H72.0 M465.0,547.0H459.0 M66.0,517.4H69.5 M465.0,517.4H461.5 M66.0,487.7H72.0 M465.0,487.7H459.0 M66.0,458.0H69.5 M465.0,458.0H461.5 M66.0,428.3H72.0 M465.0,428.3H459.0 M66.0,398.7H69.5 M465.0,398.7H461.5 M66.0,369.0H72.0 M465.0,369.0H459.0 M66.0,339.3H69.5 M465.0,339.3H461.5 " stroke="#000" stroke-width="1.6" fill="none"/>
<line x1="156" y1="142.9" x2="203" y2="142.9" stroke="#000" stroke-width="1.6"/>
<polygon points="149.8,142.9 154.5,140.9 159,142.2 159,143.6 154.5,145" fill="#000"/>
<line x1="361.2" y1="178.1" x2="403" y2="178.1" stroke="#c8182a" stroke-width="1.7"/>
<polygon points="409.4,178.1 404.5,176.1 399.8,177.3 399.8,178.9 404.5,180.1" fill="#e5101f"/>
<line x1="255.8" y1="555" x2="255.8" y2="572" stroke="#3c3c3c" stroke-width="1.6"/>
<polygon points="255.8,578.6 253.9,572.5 255.8,570 257.7,572.5" fill="#3c3c3c"/>
<line x1="375.4" y1="563.7" x2="375.4" y2="593" stroke="#8c8c8c" stroke-width="1.6"/>
<polygon points="375.4,599.6 373.5,593.3 375.4,590.5 377.3,593.3" fill="#8c8c8c"/>
<text transform="translate(57.40,304.34) scale(1.020,1)" font-family="Liberation Sans, sans-serif" font-size="15.60" text-anchor="end" fill="#000" stroke="#000" stroke-width="0.28">0</text>
<text transform="translate(57.40,257.72) scale(1.020,1)" font-family="Liberation Sans, sans-serif" font-size="15.60" text-anchor="end" fill="#000" stroke="#000" stroke-width="0.28">50</text>
<text transform="translate(57.40,211.09) scale(1.020,1)" font-family="Liberation Sans, sans-serif" font-size="15.60" text-anchor="end" fill="#000" stroke="#000" stroke-width="0.28">100</text>
<text transform="translate(57.40,164.47) scale(1.020,1)" font-family="Liberation Sans, sans-serif" font-size="15.60" text-anchor="end" fill="#000" stroke="#000" stroke-width="0.28">150</text>
<text transform="translate(57.40,117.84) scale(1.020,1)" font-family="Liberation Sans, sans-serif" font-size="15.60" text-anchor="end" fill="#000" stroke="#000" stroke-width="0.28">200</text>
<text transform="translate(57.40,71.22) scale(1.020,1)" font-family="Liberation Sans, sans-serif" font-size="15.60" text-anchor="end" fill="#000" stroke="#000" stroke-width="0.28">250</text>
<text transform="translate(57.40,24.59) scale(1.020,1)" font-family="Liberation Sans, sans-serif" font-size="15.60" text-anchor="end" fill="#000" stroke="#000" stroke-width="0.28">300</text>
<text transform="translate(473.60,303.34) scale(1.020,1)" font-family="Liberation Sans, sans-serif" font-size="15.60" text-anchor="start" fill="#e0262e" stroke="#e0262e" stroke-width="0.28">0</text>
<text transform="translate(473.60,249.24) scale(1.020,1)" font-family="Liberation Sans, sans-serif" font-size="15.60" text-anchor="start" fill="#e0262e" stroke="#e0262e" stroke-width="0.28">10</text>
<text transform="translate(473.60,195.14) scale(1.020,1)" font-family="Liberation Sans, sans-serif" font-size="15.60" text-anchor="start" fill="#e0262e" stroke="#e0262e" stroke-width="0.28">20</text>
<text transform="translate(473.60,141.04) scale(1.020,1)" font-family="Liberation Sans, sans-serif" font-size="15.60" text-anchor="start" fill="#e0262e" stroke="#e0262e" stroke-width="0.28">30</text>
<text transform="translate(473.60,86.94) scale(1.020,1)" font-family="Liberation Sans, sans-serif" font-size="15.60" text-anchor="start" fill="#e0262e" stroke="#e0262e" stroke-width="0.28">40</text>
<text transform="translate(473.60,32.84) scale(1.020,1)" font-family="Liberation Sans, sans-serif" font-size="15.60" text-anchor="start" fill="#e0262e" stroke="#e0262e" stroke-width="0.28">50</text>
<text transform="translate(59.20,611.24) scale(1.020,1)" font-family="Liberation Sans, sans-serif" font-size="15.60" text-anchor="end" fill="#000" stroke="#000" stroke-width="0.28">0</text>
<text transform="translate(59.20,551.89) scale(1.020,1)" font-family="Liberation Sans, sans-serif" font-size="15.60" text-anchor="end" fill="#000" stroke="#000" stroke-width="0.28">50</text>
<text transform="translate(59.20,492.54) scale(1.020,1)" font-family="Liberation Sans, sans-serif" font-size="15.60" text-anchor="end" fill="#000" stroke="#000" stroke-width="0.28">100</text>
<text transform="translate(59.20,433.19) scale(1.020,1)" font-family="Liberation Sans, sans-serif" font-size="15.60" text-anchor="end" fill="#000" stroke="#000" stroke-width="0.28">150</text>
<text transform="translate(59.20,373.84) scale(1.020,1)" font-family="Liberation Sans, sans-serif" font-size="15.60" text-anchor="end" fill="#000" stroke="#000" stroke-width="0.28">200</text>
<text transform="translate(59.20,314.49) scale(1.020,1)" font-family="Liberation Sans, sans-serif" font-size="15.60" text-anchor="end" fill="#000" stroke="#000" stroke-width="0.28">250</text>
<text transform="translate(65.70,626.00) scale(1.020,1)" font-family="Liberation Sans, sans-serif" font-size="15.60" text-anchor="middle" fill="#000" stroke="#000" stroke-width="0.28">0</text>
<text transform="translate(125.60,628.60) scale(1.020,1)" font-family="Liberation Sans, sans-serif" font-size="15.60" text-anchor="middle" fill="#000" stroke="#000" stroke-width="0.28">1x10<tspan font-size="8.4" dy="-8.9">16</tspan></text>
<text transform="translate(185.20,628.60) scale(1.020,1)" font-family="Liberation Sans, sans-serif" font-size="15.60" text-anchor="middle" fill="#000" stroke="#000" stroke-width="0.28">2x10<tspan font-size="8.4" dy="-8.9">16</tspan></text>
<text transform="translate(244.80,628.60) scale(1.020,1)" font-family="Liberation Sans, sans-serif" font-size="15.60" text-anchor="middle" fill="#000" stroke="#000" stroke-width="0.28">3x10<tspan font-size="8.4" dy="-8.9">16</tspan></text>
<text transform="translate(304.40,628.60) scale(1.020,1)" font-family="Liberation Sans, sans-serif" font-size="15.60" text-anchor="middle" fill="#000" stroke="#000" stroke-width="0.28">4x10<tspan font-size="8.4" dy="-8.9">16</tspan></text>
<text transform="translate(364.00,628.60) scale(1.020,1)" font-family="Liberation Sans, sans-serif" font-size="15.60" text-anchor="middle" fill="#000" stroke="#000" stroke-width="0.28">5x10<tspan font-size="8.4" dy="-8.9">16</tspan></text>
<text transform="translate(423.60,628.60) scale(1.020,1)" font-family="Liberation Sans, sans-serif" font-size="15.60" text-anchor="middle" fill="#000" stroke="#000" stroke-width="0.28">6x10<tspan font-size="8.4" dy="-8.9">16</tspan></text>
<text transform="translate(125.50,61.00) scale(1.000,1)" font-family="Liberation Sans, sans-serif" font-size="26.00" text-anchor="middle" fill="#000" stroke="#000" stroke-width="0.28">I</text>
<text transform="translate(238.20,61.00) scale(1.000,1)" font-family="Liberation Sans, sans-serif" font-size="26.00" text-anchor="middle" fill="#000" stroke="#000" stroke-width="0.28">II</text>
<text transform="translate(17.70,153.30) scale(1.040,1) rotate(-90)" font-family="Liberation Sans, sans-serif" font-size="19.10" text-anchor="middle" fill="#000" stroke="#000" stroke-width="0.00">Hydrogen Uptake (#H)</text>
<text transform="translate(513.90,141.60) scale(1.050,1) rotate(-90)" font-family="Liberation Sans, sans-serif" font-size="19.20" text-anchor="middle" fill="#e0262e" stroke="#e0262e" stroke-width="0.00">Etched carbon (#C)</text>
<text transform="translate(15.90,461.60) scale(1.040,1) rotate(-90)" font-family="Liberation Sans, sans-serif" font-size="19.10" text-anchor="middle" fill="#000" stroke="#000" stroke-width="0.00">number of</text>
<text transform="translate(219.66,654.60) scale(0.985,1)" font-family="Liberation Sans, sans-serif" font-size="16.60" text-anchor="start" fill="#000" stroke="#000" stroke-width="0.28">Fluence (H</text>
<text transform="translate(299.65,644.60) scale(1.000,1)" font-family="Liberation Sans, sans-serif" font-size="7.20" text-anchor="start" fill="#000" stroke="#000" stroke-width="0.28">+</text>
<text transform="translate(305.20,654.60) scale(0.985,1)" font-family="Liberation Sans, sans-serif" font-size="16.60" text-anchor="start" fill="#000" stroke="#000" stroke-width="0.28">/cm</text>
<text transform="translate(330.59,645.10) scale(1.000,1)" font-family="Liberation Sans, sans-serif" font-size="8.20" text-anchor="start" fill="#000" stroke="#000" stroke-width="0.28">2</text>
<text transform="translate(339.90,654.60) scale(0.985,1)" font-family="Liberation Sans, sans-serif" font-size="16.60" text-anchor="start" fill="#000" stroke="#000" stroke-width="0.28">)</text>
<text transform="translate(346.54,351.80) scale(1.100,1)" font-family="Liberation Sans, sans-serif" font-size="14.60" text-anchor="start" fill="#000" stroke="#000" stroke-width="0.15" font-weight="bold">CH</text>
<text transform="translate(372.74,351.80) scale(1.100,1)" font-family="Liberation Sans, sans-serif" font-size="14.60" text-anchor="start" fill="#000" stroke="#000" stroke-width="0.15" font-weight="bold">groups</text>
<text transform="translate(221.14,544.60) scale(1.100,1)" font-family="Liberation Sans, sans-serif" font-size="14.60" text-anchor="start" fill="#3a3a3a" stroke="#3a3a3a" stroke-width="0.15" font-weight="bold">CH</text>
<text transform="translate(244.75,552.30) scale(1.000,1)" font-family="Liberation Sans, sans-serif" font-size="8.20" text-anchor="start" fill="#3a3a3a" stroke="#3a3a3a" stroke-width="0.15" font-weight="bold">2</text>
<text transform="translate(252.74,544.60) scale(1.100,1)" font-family="Liberation Sans, sans-serif" font-size="14.60" text-anchor="start" fill="#3a3a3a" stroke="#3a3a3a" stroke-width="0.15" font-weight="bold">groups</text>
<text transform="translate(327.84,555.50) scale(1.100,1)" font-family="Liberation Sans, sans-serif" font-size="14.60" text-anchor="start" fill="#7a7a7a" stroke="#7a7a7a" stroke-width="0.15" font-weight="bold">CH</text>
<text transform="translate(350.65,562.70) scale(1.000,1)" font-family="Liberation Sans, sans-serif" font-size="8.20" text-anchor="start" fill="#7a7a7a" stroke="#7a7a7a" stroke-width="0.15" font-weight="bold">3</text>
<text transform="translate(358.34,555.50) scale(1.100,1)" font-family="Liberation Sans, sans-serif" font-size="14.60" text-anchor="start" fill="#7a7a7a" stroke="#7a7a7a" stroke-width="0.15" font-weight="bold">groups</text>
</svg>
</body></html>
